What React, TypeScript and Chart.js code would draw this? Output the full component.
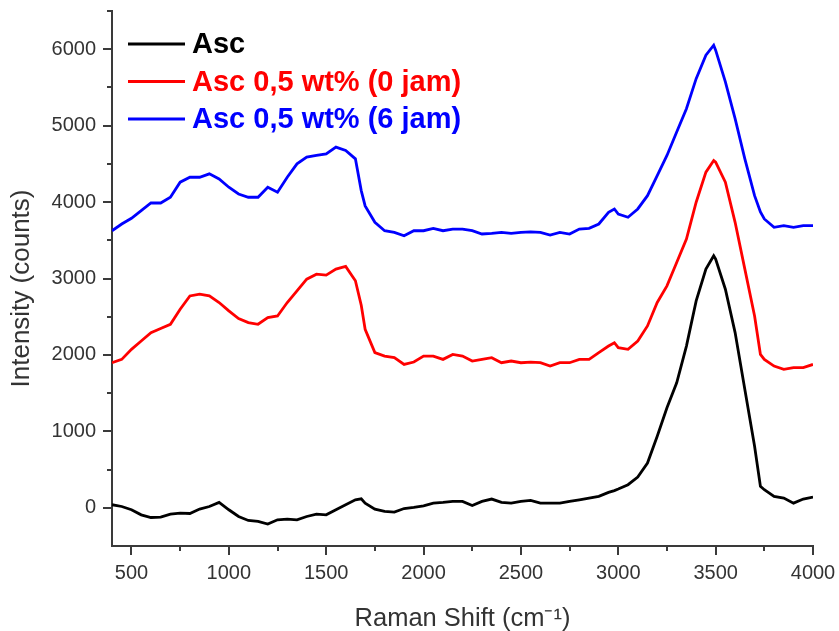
import React, { useEffect, useRef } from "react";
import { Chart, registerables } from "chart.js";

Chart.register(...registerables);

const wavenumber = [
  400, 450, 500, 550, 600, 650, 700, 750, 800, 850, 900, 950, 1000, 1050, 1100, 1150, 1200, 1250, 1300, 1350,
  1400, 1450, 1500, 1550, 1600, 1650, 1680, 1700, 1750, 1800, 1850, 1900, 1950, 2000, 2050, 2100, 2150, 2200,
  2250, 2300, 2350, 2400, 2450, 2500, 2550, 2600, 2650, 2700, 2750, 2800, 2850, 2900, 2950, 2980, 3000, 3050,
  3100, 3150, 3200, 3250, 3300, 3350, 3400, 3450, 3490, 3500, 3550, 3600, 3650, 3700, 3730, 3750, 3800, 3850,
  3900, 3950, 4000,
];

const ascValues = [
  40, 17, -26, -92, -127, -122, -83, -70, -75, -17, 17, 70, -26, -114, -166, -179, -214, -157, -149, -157,
  -114, -83, -92, -26, 39, 105, 118, 61, -17, -48, -57, -10, 4, 26, 61, 70, 83, 83,
  30, 83, 114, 70, 61, 83, 96, 61, 61, 61, 83, 105, 127, 149, 201, 225, 245, 302,
  402, 586, 936, 1308, 1636, 2116, 2707, 3123, 3297, 3254, 2860, 2292, 1548, 804, 280, 236, 149, 127,
  61, 114, 140,
];

const asc0Values = [
  1898, 1942, 2073, 2182, 2292, 2345, 2401, 2598, 2772, 2795, 2772, 2686, 2576, 2476, 2423, 2401, 2488, 2510, 2686, 2838,
  2991, 3057, 3044, 3123, 3158, 2970, 2650, 2335, 2030, 1985, 1964, 1876, 1907, 1985, 1985, 1942, 2007, 1985,
  1920, 1942, 1964, 1898, 1920, 1898, 1907, 1898, 1854, 1898, 1898, 1942, 1942, 2030, 2116, 2160, 2095, 2073,
  2182, 2379, 2686, 2904, 3210, 3516, 3998, 4391, 4544, 4522, 4260, 3735, 3123, 2510, 2007, 1942, 1854, 1811,
  1833, 1833, 1876,
];

const asc6Values = [
  3625, 3713, 3788, 3888, 3988, 3988, 4063, 4260, 4325, 4325, 4369, 4303, 4194, 4106, 4063, 4063, 4194, 4129, 4325, 4500,
  4588, 4610, 4631, 4719, 4675, 4566, 4150, 3950, 3735, 3625, 3604, 3560, 3625, 3625, 3656, 3625, 3647, 3647,
  3625, 3582, 3590, 3604, 3590, 3604, 3610, 3604, 3569, 3604, 3582, 3647, 3656, 3713, 3866, 3910, 3844, 3801,
  3910, 4084, 4347, 4610, 4916, 5222, 5615, 5921, 6052, 5987, 5572, 5091, 4566, 4084, 3870, 3779, 3670, 3691,
  3670, 3691, 3691,
];

const seriesLabels = ["Asc", "Asc 0,5 wt% (0 jam)", "Asc 0,5 wt% (6 jam)"];
const seriesColors = ["#000000", "#ff0000", "#0000ff"];

const xMajorTicks = [500, 1000, 1500, 2000, 2500, 3000, 3500, 4000];
const xMinorTicks = [750, 1250, 1750, 2250, 2750, 3250, 3750];
const yMajorTicks = [0, 1000, 2000, 3000, 4000, 5000, 6000];
const yMinorTicks = [500, 1500, 2500, 3500, 4500, 5500, 6500];

const xTitle = "Raman Shift (cm\u207B\u00B9)";
const yTitle = "Intensity (counts)";

const FONT = "'Liberation Sans', Arial, Helvetica, sans-serif";
const AXIS_COLOR = "#3a3a3a";
const TEXT_COLOR = "#333333";

const extrasPlugin = {
  id: "extras",
  afterDraw(chart: any) {
    const ctx = chart.ctx;
    const xs = chart.scales.x;
    const ys = chart.scales.y;
    const area = chart.chartArea;
    ctx.save();
    ctx.strokeStyle = AXIS_COLOR;
    ctx.lineWidth = 2;
    ctx.beginPath();
    for (const v of xMinorTicks) {
      const px = Math.round(xs.getPixelForValue(v));
      ctx.moveTo(px, area.bottom);
      ctx.lineTo(px, area.bottom + 5);
    }
    for (const v of yMinorTicks) {
      const py = Math.round(ys.getPixelForValue(v));
      ctx.moveTo(area.left, py);
      ctx.lineTo(area.left - 5, py);
    }
    ctx.stroke();

    // axis titles
    ctx.fillStyle = TEXT_COLOR;
    ctx.font = `25.5px ${FONT}`;
    ctx.textAlign = "center";
    ctx.textBaseline = "alphabetic";
    ctx.fillText(xTitle, (area.left + area.right) / 2, area.bottom + 80);

    ctx.save();
    ctx.font = `26px ${FONT}`;
    ctx.translate(22, (area.top + area.bottom) / 2 + 10);
    ctx.rotate(-Math.PI / 2);
    ctx.textBaseline = "middle";
    ctx.fillText(yTitle, 0, 0);
    ctx.restore();

    // legend inside plot area
    ctx.font = `bold 29px ${FONT}`;
    ctx.textBaseline = "middle";
    ctx.textAlign = "left";
    chart.data.datasets.forEach((ds: any, i: number) => {
      const y = area.top + 33 + i * 37.5;
      ctx.strokeStyle = ds.borderColor;
      ctx.lineWidth = 3;
      ctx.beginPath();
      ctx.moveTo(area.left + 16, y);
      ctx.lineTo(area.left + 73, y);
      ctx.stroke();
      ctx.fillStyle = ds.borderColor;
      ctx.fillText(ds.label, area.left + 80, y + 1);
    });
    ctx.restore();
  },
};

const zeroPadding = (scale: any) => {
  scale.paddingTop = 0;
  scale.paddingBottom = 0;
  scale.paddingLeft = 0;
  scale.paddingRight = 0;
};

export default function App() {
  const canvasRef = useRef<HTMLCanvasElement | null>(null);

  useEffect(() => {
    if (!canvasRef.current) return;
    const seriesValues = [ascValues, asc0Values, asc6Values];
    const chart = new Chart(canvasRef.current, {
      type: "line",
      data: {
        datasets: seriesValues.map((vals, i) => ({
          label: seriesLabels[i],
          data: wavenumber.map((x, j) => ({ x, y: vals[j] })),
          borderColor: seriesColors[i],
          backgroundColor: seriesColors[i],
          borderWidth: 2.8,
          pointRadius: 0,
          tension: 0,
          fill: false,
        })),
      },
      options: {
        animation: false,
        responsive: false,
        layout: { padding: { left: 0, top: 11, right: 26, bottom: 0 } },
        plugins: {
          legend: { display: false },
          tooltip: { enabled: false },
        },
        scales: {
          x: {
            type: "linear",
            min: 400,
            max: 4000,
            afterFit: (scale: any) => {
              scale.height = 85;
              zeroPadding(scale);
            },
            afterBuildTicks: (scale: any) => {
              scale.ticks = xMajorTicks.map((v) => ({ value: v }));
            },
            grid: { drawOnChartArea: false, drawTicks: true, tickLength: 9, color: AXIS_COLOR, lineWidth: 2 },
            border: { display: true, color: AXIS_COLOR, width: 2 },
            ticks: {
              color: TEXT_COLOR,
              font: { family: FONT, size: 20 },
              padding: 6,
              maxRotation: 0,
              autoSkip: false,
              callback: (v: any) => String(v),
            },
            title: { display: false },
          },
          y: {
            type: "linear",
            min: -500,
            max: 6500,
            afterFit: (scale: any) => {
              scale.width = 112;
              zeroPadding(scale);
            },
            afterBuildTicks: (scale: any) => {
              scale.ticks = yMajorTicks.map((v) => ({ value: v }));
            },
            grid: { drawOnChartArea: false, drawTicks: true, tickLength: 9, color: AXIS_COLOR, lineWidth: 2 },
            border: { display: true, color: AXIS_COLOR, width: 2 },
            ticks: {
              color: TEXT_COLOR,
              font: { family: FONT, size: 20 },
              padding: 7,
              autoSkip: false,
              callback: (v: any) => String(v),
            },
            title: { display: false },
          },
        },
      },
      plugins: [extrasPlugin],
    });
    return () => chart.destroy();
  }, []);

  return (
    <div style={{ position: "absolute", left: 0, top: 0, width: 839, height: 631, background: "#fff" }}>
      <canvas ref={canvasRef} width={839} height={631} />
    </div>
  );
}
